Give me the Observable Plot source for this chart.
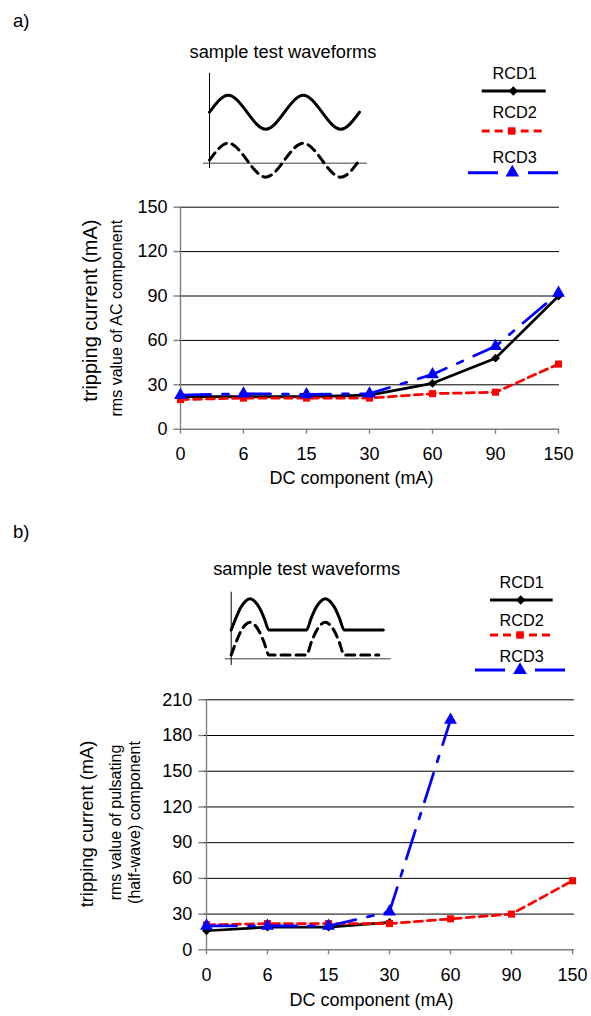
<!DOCTYPE html>
<html><head><meta charset="utf-8">
<script src="https://cdn.jsdelivr.net/npm/d3@7"></script>
<script src="https://cdn.jsdelivr.net/npm/@observablehq/plot@0.6"></script>
<style>
html,body{margin:0;padding:0;background:#fff;overflow:hidden;}
#root{position:relative;width:591px;height:1016px;font-family:"Liberation Sans",Arial,Helvetica,sans-serif;}
.panel{position:absolute;left:0;width:591px;}
.panel > svg{position:absolute;left:0;top:0;}
</style></head><body><div id="root"></div>
<script>
// ---------- data ----------
const categories = ["0","6","15","30","60","90","150"];
const seriesNames = ["RCD1","RCD2","RCD3"];
// a) AC + DC
const aRCD1 = [22, 22, 22, 23, 31, 48, 90];
const aRCD2 = [20, 21, 21, 21, 24, 25, 44];
const aRCD3 = [23, 24, 23.5, 24, 37, 56, 92];
const aYTicks = [0, 30, 60, 90, 120, 150];
// b) pulsating half-wave + DC
const bRCD1 = [16, 19, 19, 23, null, null, null];
const bRCD2 = [21, 22, 22, 22, 26, 30, 58];
const bRCD3 = [20, 20, 20, 32, 193, null, null];
const bYTicks = [0, 30, 60, 90, 120, 150, 180, 210];
// sample waveform sketches (period units / amplitude units)
const sineT = [0, 0.25, 0.5, 0.75, 1, 1.25, 1.5, 1.75, 2];
const sineSolid = [3, 4, 3, 2, 3, 4, 3, 2, 3];
const sineDashed = [0.18, 1.18, 0.18, -0.82, 0.18, 1.18, 0.18, -0.82, 0.18];
const humpT = [0, 0.0625, 0.125, 0.1875, 0.25, 0.3125, 0.375, 0.4375, 0.5];
const humpShape = [0, 0.38, 0.71, 0.92, 1, 0.92, 0.71, 0.38, 0];
const pulseStarts = [0, 1];

// ---------- styles ----------
const FONT = '"Liberation Sans", Arial, Helvetica, sans-serif';
const styles = {
  RCD1: {stroke: "#000000", dash: undefined, width: 2.75, symbol: "diamond2", r: 4},
  RCD2: {stroke: "#ff0000", dash: "8,5", width: 2.75, symbol: "square", r: 4},
  RCD3: {stroke: "#0000ff", dash: "30,12,6,12", width: 2.75, symbol: "triangle", r: 4.8}
};
const d3Symbols = {diamond2: d3.symbolDiamond2, square: d3.symbolSquare, triangle: d3.symbolTriangle};
const TICK_FS = 18;

function makeRows(data) {
  const rows = [];
  seriesNames.forEach((s, k) => data[k].forEach((v, i) => rows.push({dc: categories[i], value: v, series: s})));
  return rows;
}

function mainChart(cfg) {
  const rows = makeRows(cfg.data);
  const marks = [
    Plot.ruleY(cfg.yTicks.filter(t => t > 0), {stroke: "#000", strokeWidth: 1}),
    Plot.ruleY([0], {stroke: "#808080", strokeWidth: 1.4}),
    Plot.ruleX([categories[0]], {stroke: "#808080", strokeWidth: 1.4}),
    Plot.axisY(cfg.yTicks, {tickSize: 5, tickPadding: 6.5, stroke: "#808080", strokeWidth: 1.4, fill: "#000", fontSize: TICK_FS, label: null}),
    Plot.axisX({tickSize: 5, tickPadding: 13.2, stroke: "#808080", strokeWidth: 1.4, fill: "#000", fontSize: TICK_FS, label: null})
  ];
  seriesNames.forEach(s => {
    const st = styles[s];
    const sr = rows.filter(d => d.series === s);
    marks.push(Plot.line(sr, {x: "dc", y: "value", stroke: st.stroke, strokeWidth: st.width, strokeDasharray: st.dash, strokeLinejoin: "round"}));
    marks.push(Plot.dot(sr.filter(d => d.value != null), {x: "dc", y: "value", symbol: st.symbol, r: st.r, fill: st.stroke, stroke: "none"}));
  });
  cfg.labels.forEach(l => marks.push(Plot.text([l.text], {
    text: d => d, frameAnchor: l.anchor, dx: l.dx, dy: l.dy, rotate: l.rotate || 0,
    fontSize: l.size, fill: "#000", textAnchor: "middle"
  })));
  return Plot.plot({
    width: 591, height: cfg.height,
    marginTop: cfg.mt, marginBottom: cfg.mb, marginLeft: cfg.ml, marginRight: cfg.mr,
    x: {type: "point", domain: categories, padding: 0},
    y: {domain: [0, cfg.yMax]},
    style: {fontFamily: FONT, fontSize: TICK_FS + "px", background: "transparent", overflow: "visible"},
    marks
  });
}

function waveChart(cfg) {
  return Plot.plot({
    width: 591, height: cfg.height, margin: 0,
    x: {domain: [0, 2], range: cfg.xRange, axis: null},
    y: {domain: [0, 1], range: cfg.yRange, axis: null},
    style: {background: "transparent", overflow: "visible"},
    marks: [
      Plot.ruleY([0], {x1: cfg.hAxis[0], x2: cfg.hAxis[1], stroke: "#808080", strokeWidth: 1.5}),
      Plot.ruleX([0], {y1: cfg.vAxis[0], y2: cfg.vAxis[1], stroke: "#000", strokeWidth: 1}),
      Plot.line(cfg.solid, {x: "t", y: "v", curve: cfg.curve, stroke: "#000", strokeWidth: 3}),
      Plot.line(cfg.dashed, {x: "t", y: "v", curve: cfg.curve, stroke: "#000", strokeWidth: 3, strokeDasharray: "9,6"})
    ]
  });
}

function overlay(panel, cfg) {
  const svg = d3.select(panel).append("svg").attr("width", 591).attr("height", 200)
    .attr("font-family", FONT).style("overflow", "visible");
  svg.append("text").attr("x", 13).attr("y", cfg.tagY).attr("font-size", 18.5).text(cfg.tag);
  svg.append("text").attr("x", cfg.titleX).attr("y", cfg.titleY).attr("font-size", 18.3)
    .attr("text-anchor", "middle").text("sample test waveforms");
  cfg.legend.forEach((e, k) => {
    const name = seriesNames[k];
    const st = styles[name];
    svg.append("text").attr("x", e.cx).attr("y", e.ty).attr("text-anchor", "middle").attr("font-size", 16.3).text(name);
    svg.append("line").attr("x1", e.x1).attr("x2", e.x2).attr("y1", e.ly).attr("y2", e.ly)
      .attr("stroke", st.stroke).attr("stroke-width", 3).attr("stroke-dasharray", st.dash || null);
    svg.append("path").attr("d", d3.symbol(d3Symbols[st.symbol], Math.PI * st.r * st.r * 1.1)())
      .attr("transform", `translate(${e.mx},${e.ly})`).attr("fill", st.stroke);
  });
}

const root = document.getElementById("root");

// ---------- panel a ----------
const pa = document.createElement("div");
pa.className = "panel"; pa.style.top = "0px"; pa.style.height = "510px";
root.appendChild(pa);
pa.appendChild(mainChart({
  data: [aRCD1, aRCD2, aRCD3], yTicks: aYTicks, yMax: 150,
  height: 500, mt: 206.7, mb: 71.3, ml: 178.5, mr: 32,
  labels: [
    {text: "tripping current (mA)", anchor: "left", dx: -88.5, dy: -7.5, rotate: -90, size: 20},
    {text: "rms value of AC component", anchor: "left", dx: -62.5, dy: 0, rotate: -90, size: 16},
    {text: "DC component (mA)", anchor: "bottom", dx: -17.75, dy: 55, size: 18}
  ]
}));
pa.appendChild(waveChart({
  height: 200, xRange: [209, 359], yRange: [162.7, 145.7],
  hAxis: [-0.08, 2.107], vAxis: [-0.31, 5.28], curve: "natural",
  solid: sineT.map((t, i) => ({t, v: sineSolid[i]})),
  dashed: sineT.map((t, i) => ({t, v: sineDashed[i]}))
}));
overlay(pa, {
  tag: "a)", tagY: 27, titleX: 283, titleY: 58,
  legend: [
    {cx: 514.7, ty: 79.3, x1: 481.7, x2: 545.7, ly: 91, mx: 513.3},
    {cx: 514.7, ty: 118.3, x1: 481.7, x2: 543.3, ly: 131, mx: 511.7},
    {cx: 514.7, ty: 162.7, x1: 468, x2: 558, ly: 172.7, mx: 512.3}
  ]
});

// ---------- panel b ----------
const pb = document.createElement("div");
pb.className = "panel"; pb.style.top = "510px"; pb.style.height = "506px";
root.appendChild(pb);
pb.appendChild(mainChart({
  data: [bRCD1, bRCD2, bRCD3], yTicks: bYTicks, yMax: 210,
  height: 506, mt: 189.3, mb: 66.7, ml: 203.3, mr: 17,
  labels: [
    {text: "tripping current (mA)", anchor: "left", dx: -116.8, dy: -0.8, rotate: -90, size: 18.3},
    {text: "rms value of pulsating", anchor: "left", dx: -88.3, dy: -2.3, rotate: -90, size: 16},
    {text: "(half-wave) component", anchor: "left", dx: -68.8, dy: -2.3, rotate: -90, size: 16},
    {text: "DC component (mA)", anchor: "bottom", dx: -17.65, dy: 56.1, size: 18}
  ]
}));
function pulseWave(base, amp, tEnd) {
  const pts = [];
  pulseStarts.forEach(s => humpT.forEach((t, i) => pts.push({t: s + t, v: base + amp * humpShape[i]})));
  pts.push({t: tEnd, v: base});
  return pts;
}
pb.appendChild(waveChart({
  height: 200, xRange: [230.7, 381.3], yRange: [148.3, 116.3],
  hAxis: [-0.076, 2.125], vAxis: [-0.21, 2.08], curve: "monotone-x",
  solid: pulseWave(0.9, 0.975, 2.02),
  dashed: pulseWave(0.12, 1.02, 1.96)
}));
overlay(pb, {
  tag: "b)", tagY: 28, titleX: 306.7, titleY: 65,
  legend: [
    {cx: 521.7, ty: 78.3, x1: 490, x2: 552.7, ly: 90, mx: 520.7},
    {cx: 521.7, ty: 115.7, x1: 490, x2: 551.7, ly: 125, mx: 520},
    {cx: 521.7, ty: 151.7, x1: 475, x2: 565, ly: 160, mx: 520}
  ]
});
</script></body></html>
